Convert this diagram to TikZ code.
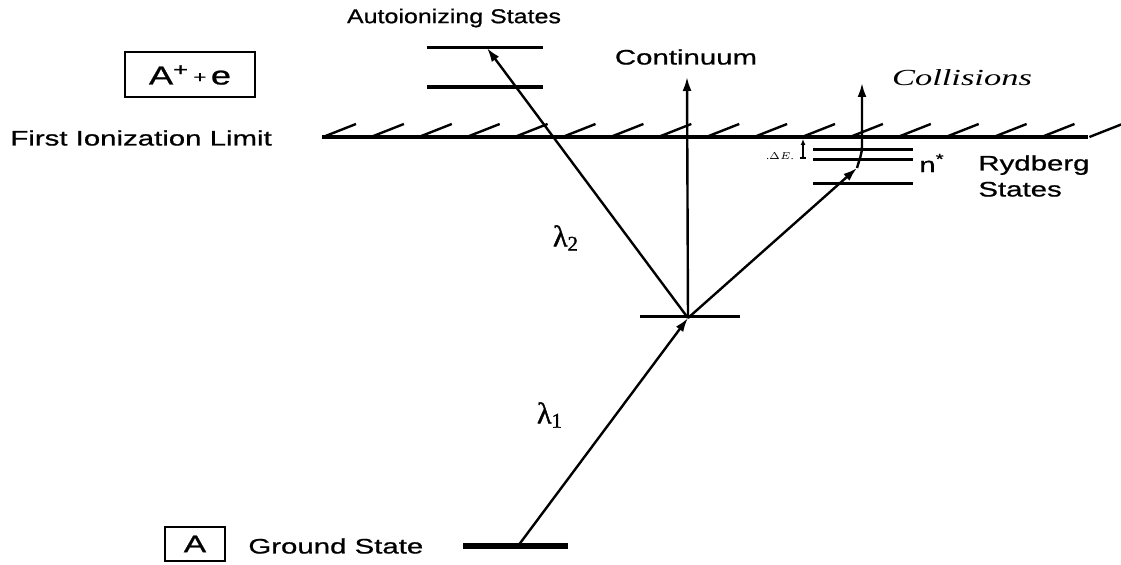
\documentclass[tikz,border=0pt]{standalone}
\usepackage{fontspec}
\setmainfont{Liberation Serif}
\newfontfamily\lsw[FakeStretch=1.4,FakeBold=0.8]{Liberation Sans}
\newfontfamily\lsn[FakeStretch=1.25,FakeBold=0.8]{Liberation Sans}
\newfontfamily\lserw[FakeStretch=1.5]{Liberation Serif}
\newfontfamily\lgreek[FakeBold=1.2]{Liberation Serif}
\usetikzlibrary{arrows.meta}
\begin{document}
\begin{tikzpicture}[x=0.5pt,y=-0.5pt,
  lab/.style={inner sep=0pt, font=\lsw\fontsize{10.5}{13}\selectfont},
  lvl/.style={line width=1.5pt},
  beam/.style={line width=1.2pt, -{Latex[length=7pt,width=4.5pt]}},
  hatch/.style={line width=1.2pt},
  lam/.style={inner sep=0pt, font=\lgreek\fontsize{15}{17}\selectfont},
  boxed/.style={draw, line width=1pt, inner sep=0pt}]
\useasboundingbox (0,0) rectangle (1121,565);
% ionization limit
\draw[line width=1.6pt] (322,137) coordinate (il) -- (1088,137) coordinate (ir);
\foreach \i in {0,...,16} \draw[hatch] (323+47.9*\i,137) -- ++(33,-13);
% levels
\draw[lvl] (427,48) coordinate (a1l) -- (543,48) coordinate (a1r);
\draw[lvl,line width=1.9pt] (427,87) coordinate (a2l) -- (543,87) coordinate (a2r);
\draw[lvl] (640,317) coordinate (ml) -- (740,317) coordinate (mr);
\draw[lvl,line width=2.6pt] (463,546) coordinate (gl) -- (568,546) coordinate (gr);
\draw[lvl] (813,150) -- (913,150);
\draw[lvl] (813,160) -- (913,160);
\draw[lvl] (813,184) -- (913,184);
% points
\coordinate (g) at (518,546);
\coordinate (m) at (688,318);
\coordinate (au) at (487,48);
\coordinate (ct) at (687,77);
\coordinate (ry) at (857,168);
\coordinate (bend) at (862,146);
\coordinate (col) at (862,83);
% beams
\draw[beam] (g) -- (m);
\draw[beam] (m) -- (au);
\draw[beam] (m) -- (ct);
\draw[beam] (m) -- (ry);
\draw[beam] (ry) to[out=75,in=-90] (bend) -- (col);
% delta E
\coordinate (dt) at (803,139);
\coordinate (db) at (803,158);
\draw[line width=0.6pt, {Latex[length=3pt,width=2.5pt]}-] (dt) -- (db);
\draw[line width=0.6pt] (800,158) -- (806,158);
\node[inner sep=0pt, font=\fontsize{5.5}{6}\selectfont] (de) at (780,156) {.$\Delta E$.};
% labels
\node[lab, font=\lsn\fontsize{10}{12}\selectfont] (auto) at (454,18) {Autoionizing States};
\node[lab] (cont) at (686,57) {Continuum};
\node[inner sep=0pt, font=\lserw\itshape\fontsize{11.5}{13}\selectfont] (coll) at (962,78) {Collisions};
\node[lab, anchor=west] (fil) at (10,138) {First Ionization Limit};
\node[lab, anchor=west] (gs) at (248,546) {Ground State};
\node[lab, anchor=west, align=left] (rs) at (978,176) {Rydberg\\States};
\node[lab] (ns) at (932,163) {n\textsuperscript{*}};
\node[boxed, minimum width=65pt, minimum height=22.5pt, font=\lsw\fontsize{13}{15}\selectfont] (ion) at (190,75) {A\textsuperscript{+}\,\raisebox{1pt}{\fontsize{8}{9}\selectfont +}\,e};
\node[boxed, minimum width=30pt, minimum height=17pt, font=\lsw\fontsize{12}{14}\selectfont] (A) at (195,544) {A};
\node[lam] (l2) at (566,238) {λ\textsubscript{2}};
\node[lam] (l1) at (550,415) {λ\textsubscript{1}};
\end{tikzpicture}
\end{document}
